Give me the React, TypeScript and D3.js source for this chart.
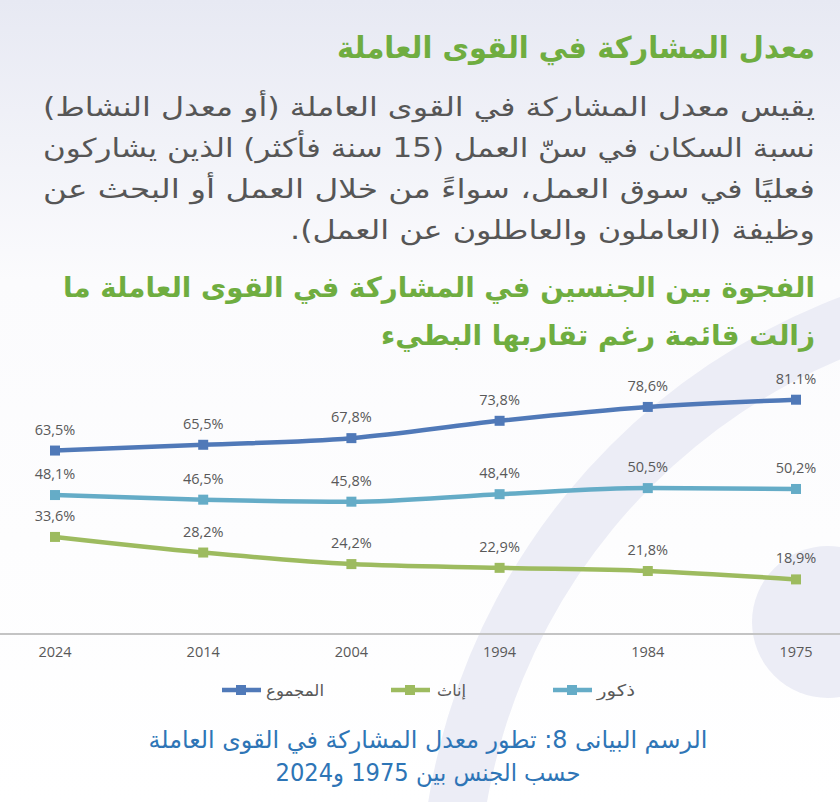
import { scaleLinear, scalePoint, line, curveMonotoneX } from "d3";

const years = ["2024", "2014", "2004", "1994", "1984", "1975"];
const totalValues = [63.5, 65.5, 67.8, 73.8, 78.6, 81.1];
const totalLabels = ["63,5%", "65,5%", "67,8%", "73,8%", "78,6%", "81.1%"];
const maleValues = [48.1, 46.5, 45.8, 48.4, 50.5, 50.2];
const maleLabels = ["48,1%", "46,5%", "45,8%", "48,4%", "50,5%", "50,2%"];
const femaleValues = [33.6, 28.2, 24.2, 22.9, 21.8, 18.9];
const femaleLabels = ["33,6%", "28,2%", "24,2%", "22,9%", "21,8%", "18,9%"];

const seriesNames = ["المجموع", "إناث", "ذكور"];
const seriesColors = ["#5079b8", "#9dbb5f", "#65acc7"];

const title = "معدل المشاركة في القوى العاملة";
const paragraph = [
  "يقيس معدل المشاركة في القوى العاملة (أو معدل النشاط)",
  "نسبة السكان في سنّ العمل (15 سنة فأكثر) الذين يشاركون",
  "فعليًا في سوق العمل، سواءً من خلال العمل أو البحث عن",
  "وظيفة (العاملون والعاطلون عن العمل).",
];
const subtitle = [
  "الفجوة بين الجنسين في المشاركة في القوى العاملة ما",
  "زالت قائمة رغم تقاربها البطيء",
];
const caption = [
  "الرسم البيانى 8: تطور معدل المشاركة في القوى العاملة",
  "حسب الجنس  بين 1975 و2024",
];

const W = 840;
const H = 802;
const arabic = "'DejaVu Sans', sans-serif";
const latin = "'Open Sans', 'Liberation Sans', sans-serif";

export default function App() {
  const x = scalePoint<string>().domain(years).range([55, 796]);
  const y = scaleLinear().domain([0, 90]).range([634, 374]);
  const path = line<number>()
    .x((_, i) => x(years[i]) as number)
    .y((d) => y(d))
    .curve(curveMonotoneX);

  const series = [
    { values: totalValues, labels: totalLabels, color: seriesColors[0] },
    { values: maleValues, labels: maleLabels, color: seriesColors[2] },
    { values: femaleValues, labels: femaleLabels, color: seriesColors[1] },
  ];

  // legend layout: marker start, name right edge, name width
  const legendMarker = [222, 391, 553];
  const legendRight = [324, 466, 635];
  const legendWidth = [58, 29, 38];

  // decorative ring behind the chart
  const cx = 1070;
  const cy = 905;
  const rOut = 650;
  const rIn = 592;

  return (
    <svg width={W} height={H} style={{ position: "fixed", left: 0, top: 0 }}>
      <defs>
        <linearGradient id="bg" x1="0" y1="0" x2="0" y2="1">
          <stop offset="0" stopColor="#e7e9f3" />
          <stop offset="0.35" stopColor="#fbfbfd" />
          <stop offset="1" stopColor="#ffffff" />
        </linearGradient>
        <clipPath id="frame">
          <rect width={W} height={H} />
        </clipPath>
      </defs>
      <rect width={W} height={H} fill="url(#bg)" />
      <g clipPath="url(#frame)">
        <path
          d={`M ${cx - rOut} ${cy} A ${rOut} ${rOut} 0 0 1 ${cx + rOut} ${cy} L ${cx + rIn} ${cy} A ${rIn} ${rIn} 0 0 0 ${cx - rIn} ${cy} Z`}
          fill="#ecedf6"
        />
        <circle cx={828} cy={622} r={76} fill="#ecedf6" />
      </g>

      <text x={815} y={58} direction="rtl" textAnchor="start" fontFamily={arabic} fontWeight="bold"
        fontSize={30} fill="#6fad40" textLength={478} lengthAdjust="spacingAndGlyphs">
        {title}
      </text>
      {paragraph.map((t, i) => (
        <text key={i} x={815} y={116 + i * 41} direction="rtl" textAnchor="start" fontFamily={arabic}
          fontSize={26} fill="#565656" textLength={i < 3 ? 772 : 525} lengthAdjust="spacingAndGlyphs">
          {t}
        </text>
      ))}
      {subtitle.map((t, i) => (
        <text key={i} x={815} y={297 + i * 48} direction="rtl" textAnchor="start" fontFamily={arabic}
          fontWeight="bold" fontSize={28} fill="#6fad40" textLength={i === 0 ? 752 : 434}
          lengthAdjust="spacingAndGlyphs">
          {t}
        </text>
      ))}

      <line x1={0} x2={W} y1={y(0)} y2={y(0)} stroke="#c4c4c4" strokeWidth={2} />
      {years.map((yr) => (
        <text key={yr} x={x(yr)} y={657} textAnchor="middle" fontFamily={latin} fontSize={14.5} fill="#595959">
          {yr}
        </text>
      ))}

      {series.map((s, si) => (
        <g key={si}>
          <path d={path(s.values) || ""} fill="none" stroke={s.color} strokeWidth={4.5} />
          {s.values.map((v, i) => (
            <rect key={i} x={(x(years[i]) as number) - 5} y={y(v) - 5} width={10} height={10} fill={s.color} />
          ))}
          {s.values.map((v, i) => (
            <text key={"l" + i} x={x(years[i])} y={y(v) - 16} textAnchor="middle" fontFamily={latin}
              fontSize={14.5} fill="#595959">
              {s.labels[i]}
            </text>
          ))}
        </g>
      ))}

      {seriesNames.map((name, i) => {
        const mx = legendMarker[i];
        return (
          <g key={name}>
            <line x1={mx} x2={mx + 39} y1={690} y2={690} stroke={seriesColors[i]} strokeWidth={4.5} />
            <rect x={mx + 14} y={685} width={10} height={10} fill={seriesColors[i]} />
            <text x={legendRight[i]} y={696} direction="rtl" textAnchor="start" fontFamily={arabic}
              fontSize={16} fill="#595959" textLength={legendWidth[i]} lengthAdjust="spacingAndGlyphs">
              {name}
            </text>
          </g>
        );
      })}

      {caption.map((t, i) => (
        <text key={i} x={428} y={748 + i * 33} direction="rtl" textAnchor="middle" fontFamily={arabic}
          fontSize={24} fill="#2e75b6" textLength={i === 0 ? 559 : 305} lengthAdjust="spacingAndGlyphs">
          {t}
        </text>
      ))}
    </svg>
  );
}
